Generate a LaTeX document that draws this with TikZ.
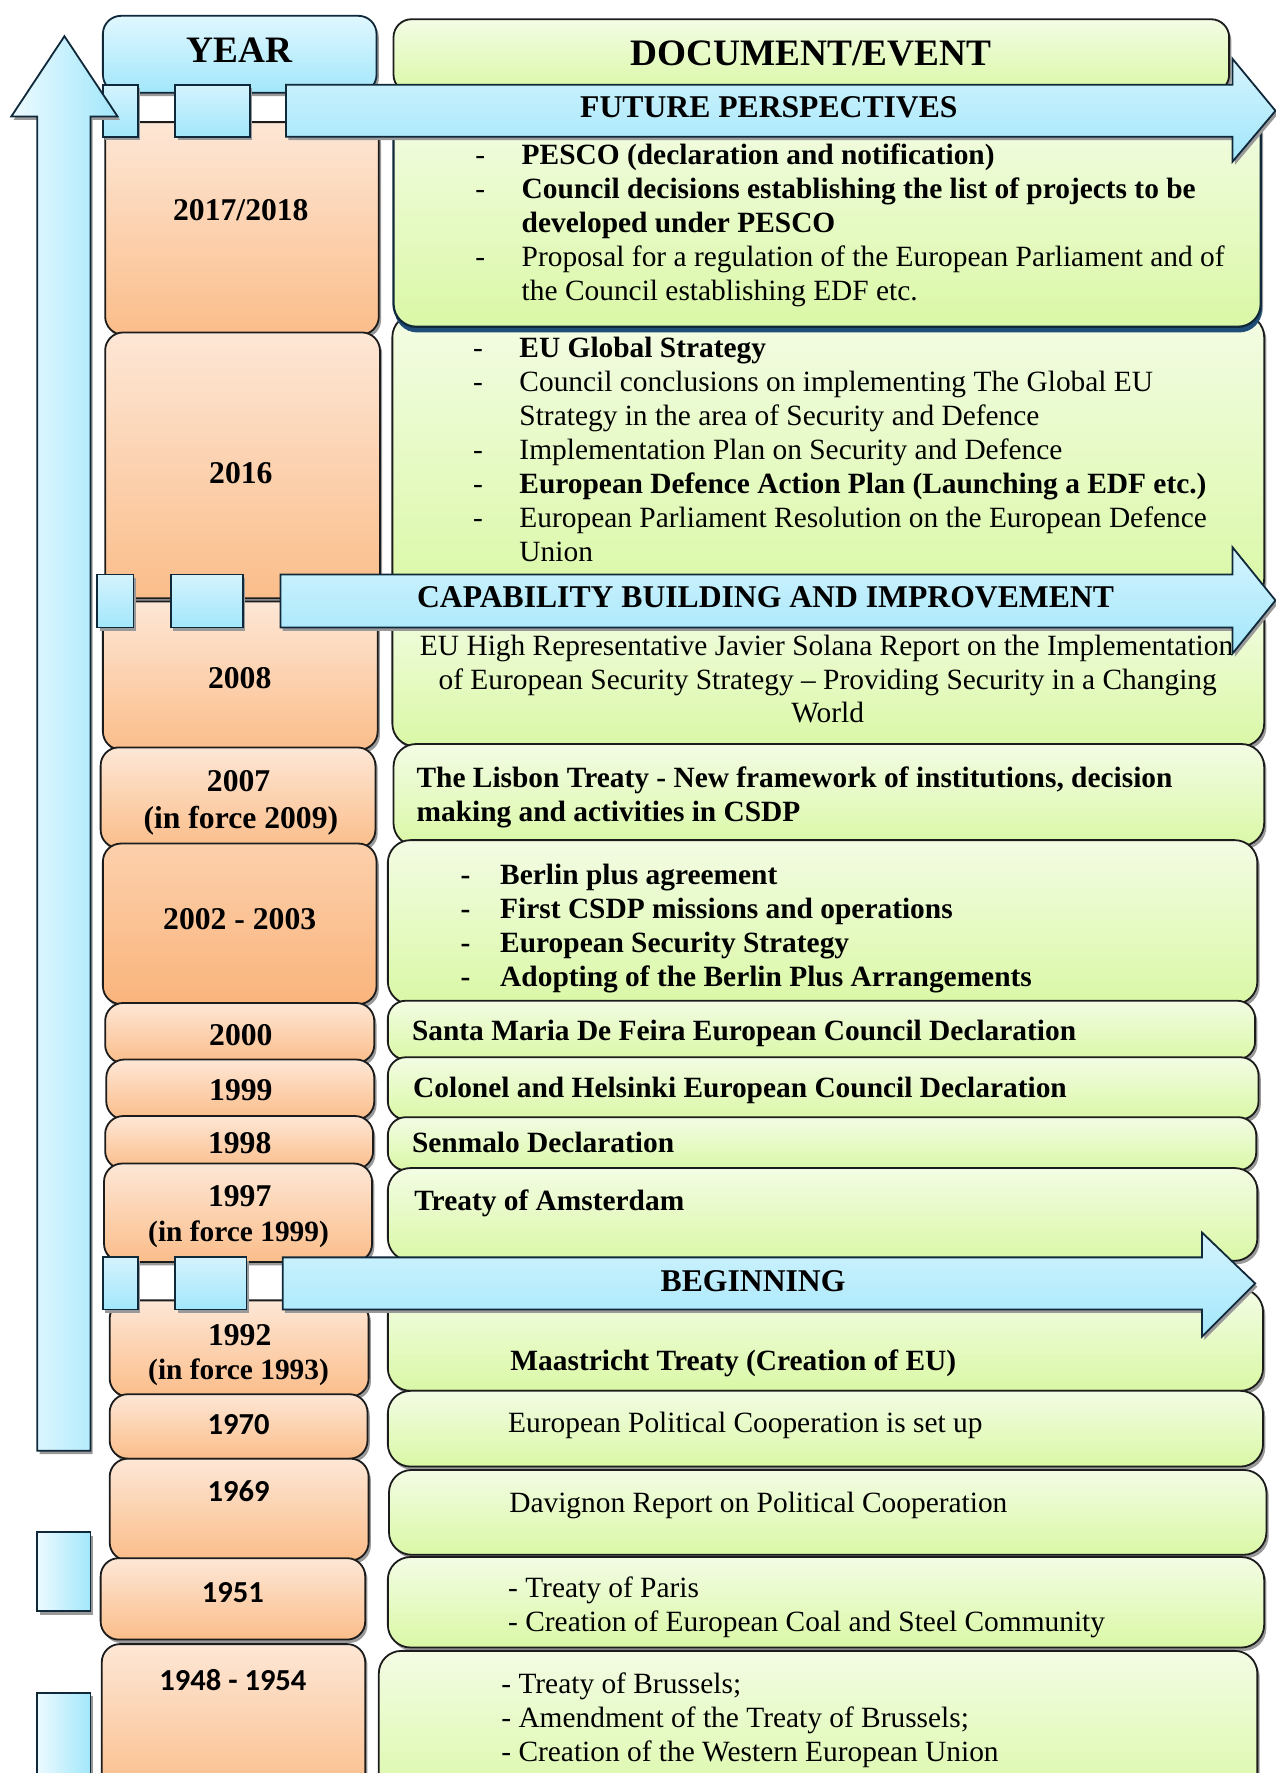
\documentclass[tikz,border=0pt]{standalone}
\usepackage{fontspec}
\setmainfont{Liberation Serif}
\newfontfamily\calib{Carlito}
\usetikzlibrary{shadows}
\definecolor{orA}{HTML}{FDE7D6}
\definecolor{orB}{HTML}{FBBD8A}
\definecolor{orC}{HTML}{FCD0AC}
\definecolor{orD}{HTML}{FAB47C}
\definecolor{grA}{HTML}{F3FCE4}
\definecolor{grB}{HTML}{DAF8A6}
\definecolor{blA}{HTML}{E0F7FE}
\definecolor{blB}{HTML}{A2E7FB}
\definecolor{blC}{HTML}{D4F3FD}
\definecolor{edgeD}{HTML}{1C1C1C}
\definecolor{edgeB}{HTML}{10293A}
\definecolor{navysh}{HTML}{1F4E79}
\tikzset{
  shad/.style={drop shadow={shadow xshift=1pt, shadow yshift=-1.5pt, fill=black!40, opacity=1}},
  yearbox/.style={draw=edgeD, line width=0.8pt, rounded corners=8pt, top color=orA, bottom color=orB, shad},
  yearboxdark/.style={draw=edgeD, line width=0.8pt, rounded corners=8pt, top color=orC, bottom color=orD, shad},
  evbox/.style={draw=edgeD, line width=0.8pt, rounded corners=10pt, top color=grA, bottom color=grB, shad},
  bluebox/.style={draw=edgeB, line width=0.8pt, top color=blC, bottom color=blB, shad},
  txt/.style={inner sep=0pt, text height=8.6pt, text depth=0pt, font=\fontsize{13}{15}\selectfont, anchor=west},
  txtb/.style={txt, font=\fontsize{13}{15}\selectfont\bfseries},
  txtc/.style={txt, anchor=center},
  yt/.style={inner sep=0pt, text height=9.3pt, text depth=0pt, font=\fontsize{14}{17}\selectfont\bfseries, anchor=center},
  yts/.style={inner sep=0pt, text height=8.6pt, text depth=0pt, font=\fontsize{13}{16}\selectfont\bfseries, anchor=center},
  ytc/.style={inner sep=0pt, text height=9pt, text depth=0pt, font=\calib\fontsize{13.5}{16}\selectfont\bfseries, anchor=center},
  bandt/.style={inner sep=0pt, text height=9.3pt, text depth=0pt, font=\fontsize{14}{17}\selectfont\bfseries, anchor=center},
  headt/.style={inner sep=0pt, text height=10.6pt, text depth=0pt, font=\fontsize{16.5}{19}\selectfont\bfseries, anchor=center}
}
\begin{document}
\begin{tikzpicture}[x=0.5pt, y=-0.5pt]
\useasboundingbox (0,0) rectangle (1128,1568);

% ---------- header boxes ----------
\draw[draw=edgeB, line width=0.8pt, rounded corners=8pt, top color=blA, bottom color=blB, shad] (91,14) rectangle (333,82);
\node[headt] (hyear) at (212,45) {YEAR};
\draw[evbox, rounded corners=8pt] (348,17) rectangle (1087,82);
\node[headt] (hdoc) at (717,47) {DOCUMENT/EVENT};

% ---------- year boxes ----------
\draw[yearbox] (93,108) rectangle (335,296);
\node[yt] (y1) at (213,186) {2017/2018};
\draw[yearbox] (93,294) rectangle (336,529);
\node[yt] (y2) at (213,418) {2016};
\draw[yearbox] (91,532) rectangle (334,663);
\node[yt] (y3) at (212,600) {2008};
\draw[yearbox] (89,661) rectangle (332,750);
\node[yt] (y4a) at (211,691) {2007};
\node[yt] (y4b) at (213,723) {(in force 2009)};
\draw[yearboxdark] (91,746) rectangle (333,888);
\node[yt] (y5) at (212,813) {2002 - 2003};
\draw[yearbox] (93,887) rectangle (331,940);
\node[yt] (y6) at (213,915) {2000};
\draw[yearbox] (94,937) rectangle (331,990);
\node[yt] (y7) at (213,964) {1999};
\draw[yearbox] (93,987) rectangle (330,1034);
\node[yt] (y8) at (212,1011) {1998};
\draw[yearbox] (92,1029) rectangle (329,1116);
\node[yt] (y9a) at (212,1058) {1997};
\node[yts] (y9b) at (211,1089) {(in force 1999)};
\draw[yearbox] (97,1150) rectangle (326,1235);
\node[yt] (y10a) at (212,1181) {1992};
\node[yts] (y10b) at (211,1211) {(in force 1993)};
\draw[yearbox] (97,1233) rectangle (325,1290);
\node[ytc] (y11) at (211,1260) {1970};
\draw[yearbox] (97,1290) rectangle (326,1380);
\node[ytc] (y12) at (211,1319) {1969};
\draw[yearbox] (89,1378) rectangle (323,1450);
\node[ytc] (y13) at (206,1408) {1951};
\draw[yearbox] (90,1454) rectangle (323,1590);
\node[ytc] (y14) at (206,1486) {1948 - 1954};

% ---------- event boxes ----------
\draw[evbox] (347,278) rectangle (1118,532);
\draw[evbox, draw=edgeB, line width=1pt, drop shadow={shadow xshift=0.5pt, shadow yshift=-2.5pt, fill=navysh, opacity=1}] (348,95) rectangle (1115,289);
\node[txt] (d1a) at (420,137) {-};
\node[txtb] (e1a) at (461,137) {PESCO (declaration and notification)};
\node[txt] (d1b) at (420,167) {-};
\node[txtb] (e1b) at (461,167) {Council decisions establishing the list of projects to be};
\node[txtb] (e1c) at (461,197) {developed under PESCO};
\node[txt] (d1d) at (420,227) {-};
\node[txt] (e1d) at (461,227) {Proposal for a regulation of the European Parliament and of};
\node[txt] (e1e) at (461,257) {the Council establishing EDF etc.};

\node[txt] (d2a) at (418,308) {-};
\node[txtb] (e2a) at (459,308) {EU Global Strategy};
\node[txt] (d2b) at (418,338) {-};
\node[txt] (e2b) at (459,338) {Council conclusions on implementing The Global EU};
\node[txt] (e2c) at (459,368) {Strategy in the area of Security and Defence};
\node[txt] (d2d) at (418,398) {-};
\node[txt] (e2d) at (459,398) {Implementation Plan on Security and Defence};
\node[txt] (d2e) at (418,428) {-};
\node[txtb] (e2e) at (459,428) {European Defence Action Plan (Launching a EDF etc.)};
\node[txt] (d2f) at (418,458) {-};
\node[txt] (e2f) at (459,458) {European Parliament Resolution on the European Defence};
\node[txt] (e2g) at (459,488) {Union};

\draw[evbox] (347,530) rectangle (1118,660);
\node[txtc] (e3a) at (731,571) {EU High Representative Javier Solana Report on the Implementation};
\node[txtc] (e3b) at (732,601) {of European Security Strategy -- Providing Security in a Changing};
\node[txtc] (e3c) at (732,630) {World};

\draw[evbox] (348,658) rectangle (1118,748);
\node[txtb] (e4a) at (368,688) {The Lisbon Treaty - New framework of institutions, decision};
\node[txtb] (e4b) at (368,718) {making and activities in CSDP};

\draw[evbox] (343,743) rectangle (1112,888);
\node[txtb] (d5a) at (407,774) {-};
\node[txtb] (e5a) at (442,774) {Berlin plus agreement};
\node[txtb] (d5b) at (407,804) {-};
\node[txtb] (e5b) at (442,804) {First CSDP missions and operations};
\node[txtb] (d5c) at (407,834) {-};
\node[txtb] (e5c) at (442,834) {European Security Strategy};
\node[txtb] (d5d) at (407,864) {-};
\node[txtb] (e5d) at (442,864) {Adopting of the Berlin Plus Arrangements};

\draw[evbox, rounded corners=8pt] (343,885) rectangle (1110,937);
\node[txtb] (e6) at (364,912) {Santa Maria De Feira European Council Declaration};
\draw[evbox, rounded corners=8pt] (343,935) rectangle (1113,990);
\node[txtb] (e7) at (365,962) {Colonel and Helsinki European Council Declaration};
\draw[evbox, rounded corners=8pt] (343,988) rectangle (1111,1035);
\node[txtb] (e8) at (364,1011) {Senmalo Declaration};
\draw[evbox] (343,1033) rectangle (1112,1115);
\node[txtb] (e9) at (366,1062) {Treaty of Amsterdam};

\draw[evbox] (343,1140) rectangle (1117,1230);
\node[txtb] (e10) at (451,1203) {Maastricht Treaty (Creation of EU)};
\draw[evbox] (343,1230) rectangle (1117,1297);
\node[txt] (e11) at (449,1258) {European Political Cooperation is set up};
\draw[evbox] (344,1300) rectangle (1120,1375);
\node[txt] (e12) at (450,1329) {Davignon Report on Political Cooperation};
\draw[evbox] (343,1377) rectangle (1118,1457);
\node[txt] (e13a) at (449,1404) {- Treaty of Paris};
\node[txt] (e13b) at (449,1434) {- Creation of European Coal and Steel Community};
\draw[evbox] (335,1460) rectangle (1112,1600);
\node[txt] (e14a) at (443,1489) {- Treaty of Brussels;};
\node[txt] (e14b) at (443,1519) {- Amendment of the Treaty of Brussels;};
\node[txt] (e14c) at (443,1549) {- Creation of the Western European Union};

% ---------- bands ----------
% future perspectives
\draw[bluebox] (91,75) rectangle (122,121);
\draw[bluebox] (155,75) rectangle (221,121);
\draw[bluebox] (253,75) -- (1090,75) -- (1090,52) -- (1128,98) -- (1090,143) -- (1090,121) -- (253,121) -- cycle;
\node[bandt] (b1) at (680,95) {FUTURE PERSPECTIVES};
% capability
\draw[bluebox] (86,508) rectangle (118,555);
\draw[bluebox] (151,508) rectangle (215,555);
\draw[bluebox] (248,508) -- (1090,508) -- (1090,484) -- (1128,531) -- (1090,578) -- (1090,555) -- (248,555) -- cycle;
\node[bandt] (b2) at (677,528) {CAPABILITY BUILDING AND IMPROVEMENT};
% beginning
\draw[bluebox] (91,1112) rectangle (122,1158);
\draw[bluebox] (155,1112) rectangle (218,1158);
\draw[bluebox] (250,1112) -- (1063,1112) -- (1063,1090) -- (1110,1135) -- (1063,1182) -- (1063,1158) -- (250,1158) -- cycle;
\node[bandt] (b3) at (666,1133) {BEGINNING};

% ---------- left time arrow ----------
\draw[draw=edgeB, line width=0.8pt, left color=blA!60!white, right color=blB, shad]
  (33,1283) -- (33,103) -- (10,103) -- (57,32) -- (104,103) -- (80,103) -- (80,1283) -- cycle;
\draw[draw=edgeB, line width=0.8pt, left color=blA!60!white, right color=blB, shad] (33,1355) rectangle (80,1425);
\draw[draw=edgeB, line width=0.8pt, left color=blA!60!white, right color=blB, shad] (33,1497) rectangle (80,1600);
\end{tikzpicture}
\end{document}
